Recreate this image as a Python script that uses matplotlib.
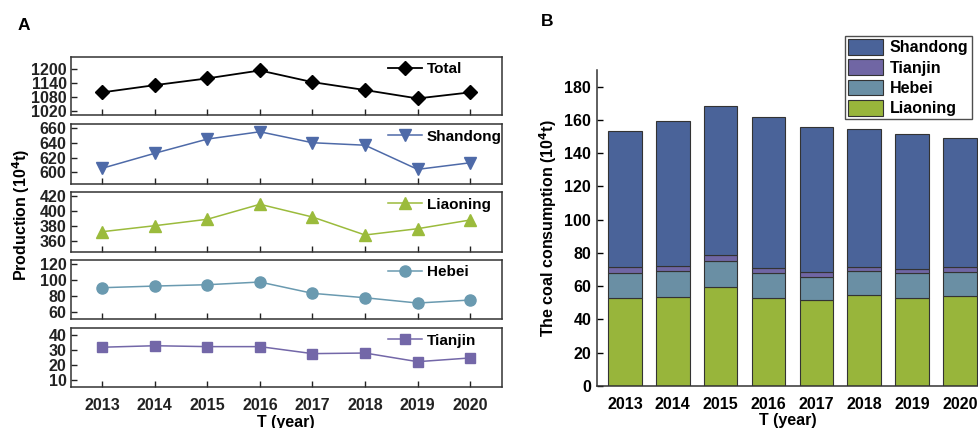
import matplotlib
matplotlib.use("Agg")
import matplotlib.pyplot as plt
from matplotlib.patches import Patch

plt.rcParams['font.family'] = ['Liberation Sans', 'DejaVu Sans']
plt.rcParams['font.weight'] = 'bold'
plt.rcParams['mathtext.default'] = 'bf'

years = [2013, 2014, 2015, 2016, 2017, 2018, 2019, 2020]

# Panel A: production
total_prod = [1100, 1131, 1160, 1194, 1144, 1110, 1074, 1100]
shandong_prod = [605.5, 626, 645.4, 655.4, 640.4, 637, 604, 613]
liaoning_prod = [372.4, 380.4, 389, 409, 392, 368, 376.4, 388]
hebei_prod = [90.4, 92.5, 94.2, 97.6, 83.3, 77.7, 71, 74.8]
tianjin_prod = [32, 33, 32.4, 32.4, 27.7, 28.1, 22.3, 24.8]

# Panel B: coal consumption (stacked)
liaoning_cons = [52.9, 53.5, 59.3, 52.9, 51.5, 54.7, 53.1, 54.3]
hebei_cons = [15.2, 15.8, 16.0, 14.8, 13.8, 14.2, 14.6, 14.4]
tianjin_cons = [3.2, 3.0, 3.2, 3.0, 3.2, 2.8, 2.4, 2.6]
shandong_cons = [82.0, 87.2, 89.7, 91.3, 87.0, 82.6, 81.2, 77.8]

W, H = 979, 428
fig = plt.figure(figsize=(W / 100, H / 100), dpi=100)

def frac_box(x0, y0, x1, y1):
    return [x0 / W, 1 - y1 / H, (x1 - x0) / W, (y1 - y0) / H]

c_shan_line = '#4e6aa8'
c_liao_line = '#9bbb3c'
c_hebei_line = '#6a9ab0'
c_tian_line = '#7367a8'

panels = [
    ("Total", total_prod, 'black', 'D', 7, (56.7, 115), (1003, 1253), [1020, 1080, 1140, 1200], 1.3),
    ("Shandong", shandong_prod, c_shan_line, 'v', 9, (124, 184), (584, 666), [600, 620, 640, 660], 1.1),
    ("Liaoning", liaoning_prod, c_liao_line, '^', 9, (192.3, 251.7), (345.7, 425), [360, 380, 400, 420], 1.1),
    ("Hebei", hebei_prod, c_hebei_line, 'o', 8, (260, 319.3), (50.4, 125.5), [60, 80, 100, 120], 1.1),
    ("Tianjin", tianjin_prod, c_tian_line, 's', 7, (328.3, 387.3), (5.1, 44.7), [10, 20, 30, 40], 1.1),
]

for i, (name, vals, col, mk, ms, (ytop, ybot), ylim, yt, lw) in enumerate(panels):
    ax = fig.add_axes(frac_box(70.7, ytop, 501.7, ybot))
    ax.plot(years, vals, color=col, marker=mk, markersize=ms, linewidth=lw,
            markeredgecolor=col, label=name)
    ax.set_xlim(2012.4, 2020.6)
    ax.set_ylim(*ylim)
    ax.set_yticks(yt)
    ax.set_xticks(years)
    ax.tick_params(axis='both', direction='in', length=4.5, width=1.0,
                   labelsize=11.5, colors='#222222', pad=3)
    for lab in ax.get_yticklabels():
        lab.set_fontweight('bold')
    if i < len(panels) - 1:
        ax.set_xticklabels([])
    else:
        ax.set_xticklabels([str(y) for y in years], fontweight='bold', fontsize=11.5)
        ax.tick_params(axis='x', pad=8)
        ax.set_xlabel("T (year)", fontsize=11.5, fontweight='bold', labelpad=1)
    for s in ax.spines.values():
        s.set_linewidth(1.1)
        s.set_color('#333333')
    ax.legend(loc='center left', bbox_to_anchor=(0.737, 0.79), frameon=False,
              borderpad=0, borderaxespad=0, handlelength=2.2, handletextpad=0.3,
              prop={'weight': 'bold', 'size': 11})

fig.text(21 / W, 1 - 215 / H, "Production (10$^{4}$t)", rotation=90, ha='center',
         va='center', fontsize=11.5, fontweight='bold')
fig.text(24 / W, 1 - 25 / H, "A", ha='center', va='center', fontsize=12.5, fontweight='bold')
fig.text(547 / W, 1 - 22 / H, "B", ha='center', va='center', fontsize=12.5, fontweight='bold')

# Panel B
c_shan = '#4a6399'
c_tian = '#7066a4'
c_hebei = '#6a8fa4'
c_liao = '#98b53b'
axB = fig.add_axes(frac_box(596.7, 70, 979, 386))
bw = 0.70
ec = '#333333'
axB.bar(years, liaoning_cons, width=bw, color=c_liao, edgecolor=ec, linewidth=0.8)
bottom2 = liaoning_cons
axB.bar(years, hebei_cons, width=bw, bottom=bottom2, color=c_hebei, edgecolor=ec, linewidth=0.8)
bottom3 = [a + b for a, b in zip(liaoning_cons, hebei_cons)]
axB.bar(years, tianjin_cons, width=bw, bottom=bottom3, color=c_tian, edgecolor=ec, linewidth=0.8)
bottom4 = [a + b for a, b in zip(bottom3, tianjin_cons)]
axB.bar(years, shandong_cons, width=bw, bottom=bottom4, color=c_shan, edgecolor=ec, linewidth=0.8)
axB.set_xlim(2012.41, 2020.4)
axB.set_ylim(0, 190)
axB.set_yticks(range(0, 181, 20))
axB.set_xticks(years)
axB.set_xticklabels([str(y) for y in years], fontweight='bold', fontsize=11.5)
axB.tick_params(axis='y', direction='in', length=4.5, width=1.0, labelsize=11.5, pad=4)
axB.tick_params(axis='x', length=0, labelsize=11.5, pad=8)
for lab in axB.get_yticklabels():
    lab.set_fontweight('bold')
axB.spines['top'].set_visible(False)
axB.spines['right'].set_visible(False)
for s in ['left', 'bottom']:
    axB.spines[s].set_linewidth(1.1)
    axB.spines[s].set_color('#333333')
axB.set_xlabel("T (year)", fontsize=11.5, fontweight='bold', labelpad=1)
axB.set_ylabel("The coal consumption (10$^{4}$t)", fontsize=11.5, fontweight='bold', labelpad=4)

handles = [Patch(facecolor=c_shan, edgecolor=ec, linewidth=0.8),
           Patch(facecolor=c_tian, edgecolor=ec, linewidth=0.8),
           Patch(facecolor=c_hebei, edgecolor=ec, linewidth=0.8),
           Patch(facecolor=c_liao, edgecolor=ec, linewidth=0.8)]
legB = fig.legend(handles, ["Shandong", "Tianjin", "Hebei", "Liaoning"],
                  loc='upper left', bbox_to_anchor=(845 / W, 1 - 35.7 / H),
                  frameon=True, fancybox=False, edgecolor='#222222',
                  borderpad=0.2, handlelength=2.2, handleheight=1.15,
                  handletextpad=0.4, labelspacing=0.25, borderaxespad=0,
                  prop={'weight': 'bold', 'size': 11.5})
legB.get_frame().set_linewidth(1.0)

fig.savefig("out.png", dpi=100)
